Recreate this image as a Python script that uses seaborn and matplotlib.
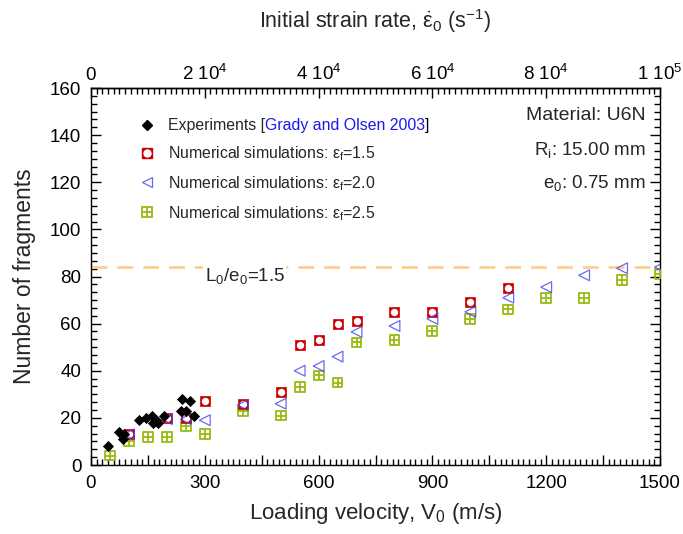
import matplotlib
matplotlib.use("Agg")
import matplotlib.pyplot as plt
from matplotlib.lines import Line2D
from matplotlib.legend_handler import HandlerTuple
from matplotlib.ticker import MultipleLocator, FixedLocator, FuncFormatter
import numpy as np
import pandas as pd
import seaborn as sns

# Experimental data (Grady and Olsen 2003)
exp_v = [45, 74, 88, 85, 127, 144, 162, 164, 172, 177, 192, 240, 261, 238, 250, 271]
exp_n = [8, 14, 13, 11, 19, 20, 21, 18, 19, 18, 21, 28, 27, 23, 23, 21]

# Numerical simulations, failure strain 1.5
sim15_v = [100, 200, 250, 300, 400, 500, 550, 600, 650, 700, 800, 900, 1000, 1100]
sim15_n = [13, 20, 20, 27, 26, 31, 51, 53, 60, 61, 65, 65, 69, 75]

# Numerical simulations, failure strain 2.0
sim20_v = [100, 200, 250, 300, 400, 500, 550, 600, 650, 700, 800, 900, 1000, 1100,
           1200, 1300, 1400, 1500]
sim20_n = [13, 19.5, 19.5, 19, 25.5, 26, 40, 42, 46, 56.5, 59, 62, 65, 71, 75.5, 80.5,
           83.5, 84]

# Numerical simulations, failure strain 2.5
sim25_v = [50, 100, 150, 200, 250, 300, 400, 500, 550, 600, 650, 700, 800, 900, 1000,
           1100, 1200, 1300, 1400, 1500]
sim25_n = [4, 10, 12, 12, 16.5, 13, 23, 21, 33, 38, 35, 52, 53, 57, 62, 66, 71, 71, 78.5,
           81]

ratio_level = 84          # L0/e0 = 1.5
inner_radius = 0.015      # m, ring inner radius -> strain rate = V / R_i

top_ticks = [0, 2e4, 4e4, 6e4, 8e4, 1e5]

sns.set_theme(style="ticks")
plt.rcParams["font.family"] = ["Liberation Sans", "DejaVu Sans"]
plt.rcParams["mathtext.fontset"] = "custom"
plt.rcParams["mathtext.rm"] = "Liberation Sans"
plt.rcParams["mathtext.it"] = "Liberation Sans"
plt.rcParams["mathtext.bf"] = "Liberation Sans:bold"
plt.rcParams["axes.linewidth"] = 1.0

fig = plt.figure(figsize=(6.83, 5.34), dpi=100)
ax = fig.add_axes([91 / 683, 1 - 465 / 534, 569 / 683, 377 / 534])

red = "#cc0000"
blue = "#4444ee"
green = "#99bb11"

df_exp = pd.DataFrame({"v": exp_v, "n": exp_n})
df15 = pd.DataFrame({"v": sim15_v, "n": sim15_n})
df20 = pd.DataFrame({"v": sim20_v, "n": sim20_n})
df25 = pd.DataFrame({"v": sim25_v, "n": sim25_n})

# eps_f = 2.5 : open square with a cross
sns.scatterplot(data=df25, x="v", y="n", marker="s", s=50, facecolor="none",
                edgecolor=green, linewidth=1.3, ax=ax, zorder=3)
sns.scatterplot(data=df25, x="v", y="n", marker="+", s=50, color=green,
                linewidth=1.3, ax=ax, zorder=3)
# eps_f = 1.5 : red square with white centre
sns.scatterplot(data=df15, x="v", y="n", marker="s", s=52, color=red,
                edgecolor=red, linewidth=0.5, ax=ax, zorder=4)
sns.scatterplot(data=df15, x="v", y="n", marker="o", s=28, color="white",
                edgecolor="white", linewidth=0, ax=ax, zorder=5)
# eps_f = 2.0 : open left triangle
sns.scatterplot(data=df20, x="v", y="n", marker="<", s=60, facecolor="none",
                edgecolor=blue, linewidth=0.9, alpha=0.8, ax=ax, zorder=6)
# experiments : black diamonds
sns.scatterplot(data=df_exp, x="v", y="n", marker="D", s=26, color="black",
                edgecolor="black", linewidth=0.6, ax=ax, zorder=7)

ax.axhline(ratio_level, color="#ffcc88", lw=1.9, dashes=(6, 3.8), zorder=1)
ax.text(300, ratio_level + 0.6, r"L$_0$/e$_0$=1.5", fontsize=13.5, ha="left",
        va="top", zorder=2,
        bbox=dict(facecolor="white", edgecolor="none", pad=1.0))

ax.set_xlim(0, 1500)
ax.set_ylim(0, 160)
ax.xaxis.set_major_locator(MultipleLocator(150))
ax.xaxis.set_minor_locator(MultipleLocator(15))
ax.xaxis.set_major_formatter(FuncFormatter(lambda v, p: f"{v:.0f}" if round(v) % 300 == 0 else ""))
ax.yaxis.set_major_locator(MultipleLocator(20))
ax.yaxis.set_minor_locator(MultipleLocator(20 / 6))
ax.tick_params(which="both", direction="in", bottom=True, left=True, right=True,
               top=False, labelsize=13.5, colors="black", width=1.0)
ax.tick_params(which="major", length=7, pad=7)
ax.tick_params(which="minor", length=4)
ax.set_xlabel(r"Loading velocity, V$_0$ (m/s)", fontsize=16, labelpad=7)
ax.set_ylabel("Number of fragments", fontsize=16.5, labelpad=10)
for sp in ax.spines.values():
    sp.set_color("black")

# Top axis: initial strain rate
sec = ax.secondary_xaxis("top", functions=(lambda v: v / inner_radius,
                                           lambda r: r * inner_radius))


def sci_fmt(val, pos):
    if val == 0:
        return "0"
    e = int(np.floor(np.log10(val) + 1e-9))
    m = val / 10 ** e
    return f"{m:.0f} 10$^{{{e}}}$"


sec.xaxis.set_major_locator(FixedLocator(top_ticks))
sec.xaxis.set_minor_locator(MultipleLocator(1000))
sec.xaxis.set_major_formatter(FuncFormatter(sci_fmt))
sec.tick_params(which="both", direction="in", labelsize=13.5, colors="black", width=1.0)
sec.tick_params(which="major", length=7, pad=3)
sec.tick_params(which="minor", length=4)
sec.spines["top"].set_color("black")
sec.set_xlabel(r"Initial strain rate, $\dot{\varepsilon}_0$ (s$^{-1}$)", fontsize=15.5,
               labelpad=26)

# Legend
h_exp = Line2D([], [], ls="none", marker="D", ms=5, color="black")
h15 = (Line2D([], [], ls="none", marker="s", ms=7.2, color=red, mec=red),
       Line2D([], [], ls="none", marker="o", ms=5.0, color="white", mec="white"))
h20 = Line2D([], [], ls="none", marker="<", ms=7.7, mfc="none", mec=blue, mew=0.9,
             alpha=0.8)
h25 = (Line2D([], [], ls="none", marker="s", ms=7, mfc="none", mec=green, mew=1.3),
       Line2D([], [], ls="none", marker="+", ms=7, color=green, mew=1.3))
labels = ["Experiments [",
          r"Numerical simulations: $\varepsilon_f$=1.5",
          r"Numerical simulations: $\varepsilon_f$=2.0",
          r"Numerical simulations: $\varepsilon_f$=2.5"]
leg = ax.legend([h_exp, h15, h20, h25], labels, loc="upper left",
                bbox_to_anchor=(0.081, 0.92), frameon=False, fontsize=11.4,
                handlelength=1.2, handletextpad=0.75, labelspacing=0.7,
                borderpad=0, borderaxespad=0,
                handler_map={tuple: HandlerTuple(ndivide=1, pad=0)})
leg.set_zorder(8)
first = leg.get_texts()[0]
ref = ax.annotate("Grady and Olsen 2003", xy=(1, 0), xycoords=first, fontsize=11.4,
                  color="#1a1aee", va="bottom", ha="left", zorder=10)
ax.annotate("]", xy=(1, 0), xycoords=ref, fontsize=11.4, color="black",
            va="bottom", ha="left", zorder=11)

# Material information
ax.text(0.974, 0.928, "Material: U6N", transform=ax.transAxes, ha="right",
        va="center", fontsize=14)
ax.text(0.974, 0.835, r"R$_i$: 15.00 mm", transform=ax.transAxes, ha="right",
        va="center", fontsize=13.5)
ax.text(0.974, 0.748, r"e$_0$: 0.75 mm", transform=ax.transAxes, ha="right",
        va="center", fontsize=13.5)

fig.savefig("out.png", dpi=100, facecolor="white")
